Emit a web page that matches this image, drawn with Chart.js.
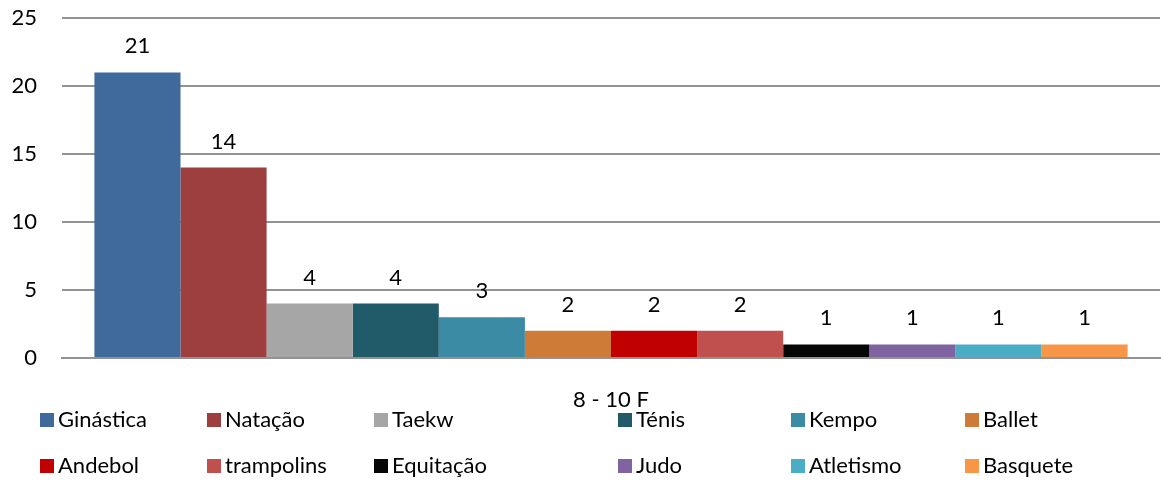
<!DOCTYPE html>
<html>
<head>
<meta charset="utf-8">
<script src="https://cdn.jsdelivr.net/npm/chart.js@4"></script>
<style>
  html, body { margin: 0; padding: 0; background: #fff; }
  #wrap { position: relative; width: 1161px; height: 481px; font-family: Lato, "Open Sans", sans-serif; }
  #c { position: absolute; left: 0; top: 0; }
  .lg-box { position: absolute; width: 14px; height: 14px; }
  .lg-txt { position: absolute; font-size: 22px; line-height: 22px; color: #000; white-space: nowrap; }
</style>
</head>
<body>
<div id="wrap">
  <canvas id="c" width="1161" height="481"></canvas>
</div>
<script>
// ---- data ----
const categories = ['8 - 10 F'];
const seriesNames = ['Ginástica', 'Natação', 'Taekw', 'Ténis', 'Kempo', 'Ballet',
                     'Andebol', 'trampolins', 'Equitação', 'Judo', 'Atletismo', 'Basquete'];
const seriesValues = [21, 14, 4, 4, 3, 2, 2, 2, 1, 1, 1, 1];
const seriesColors = ['#406A9B', '#9C3F3E', '#A6A6A6', '#215A68', '#3B8BA4', '#CD7B37',
                      '#C00000', '#C0504D', '#060606', '#8064A2', '#4BACC6', '#F79646'];
const yTicks = [0, 5, 10, 15, 20, 25];

// ---- layout constants ----
const FONT = 'Lato, "Open Sans", sans-serif';
const legendCols = [40, 207, 374, 618, 791, 965];
const legendRows = [413, 459];

const valueLabels = {
  id: 'valueLabels',
  afterDatasetsDraw(chart) {
    const ctx = chart.ctx;
    ctx.save();
    ctx.font = '22px ' + FONT;
    ctx.fillStyle = '#000';
    ctx.textAlign = 'center';
    ctx.textBaseline = 'alphabetic';
    chart.data.datasets.forEach((ds, i) => {
      const meta = chart.getDatasetMeta(i);
      meta.data.forEach((el, j) => {
        ctx.fillText(String(ds.data[j]), el.x, el.y - 19);
      });
    });
    ctx.restore();
  }
};

const chart = new Chart(document.getElementById('c'), {
  type: 'bar',
  data: {
    labels: categories,
    datasets: seriesNames.map((name, i) => ({
      label: name,
      data: [seriesValues[i]],
      backgroundColor: seriesColors[i],
      borderWidth: 0,
      barPercentage: 1.0,
      categoryPercentage: 0.941
    }))
  },
  options: {
    responsive: false,
    devicePixelRatio: 1,
    animation: false,
    layout: { padding: { top: 18, right: 1, bottom: 0, left: 0 } },
    plugins: { legend: { display: false }, tooltip: { enabled: false } },
    scales: {
      x: {
        z: 1,
        grid: { display: false, drawTicks: false },
        border: { display: true, color: '#929292', width: 2 },
        ticks: { font: { family: FONT, size: 22 }, color: '#000', padding: 29 },
        afterFit(s) { s.height = 123; s.paddingLeft = 0; s.paddingRight = 0; }
      },
      y: {
        min: 0, max: 25,
        afterBuildTicks(s) { s.ticks = yTicks.map(v => ({ value: v })); },
        grid: { color: '#929292', lineWidth: 2, drawTicks: false },
        border: { display: false },
        ticks: { font: { family: FONT, size: 22 }, color: '#000', padding: 25 },
        afterFit(s) { s.width = 62; s.paddingTop = 0; s.paddingBottom = 0; }
      }
    }
  },
  plugins: [valueLabels]
});

// ---- HTML legend built from chart datasets ----
const wrap = document.getElementById('wrap');
chart.data.datasets.forEach((ds, i) => {
  const col = i % 6, row = Math.floor(i / 6);
  const box = document.createElement('div');
  box.className = 'lg-box';
  box.style.left = legendCols[col] + 'px';
  box.style.top = legendRows[row] + 'px';
  box.style.background = ds.backgroundColor;
  wrap.appendChild(box);
  const t = document.createElement('div');
  t.className = 'lg-txt';
  t.style.left = (legendCols[col] + 18) + 'px';
  t.style.top = (legendRows[row] - 5) + 'px';
  t.textContent = ds.label;
  wrap.appendChild(t);
});
</script>
</body>
</html>
